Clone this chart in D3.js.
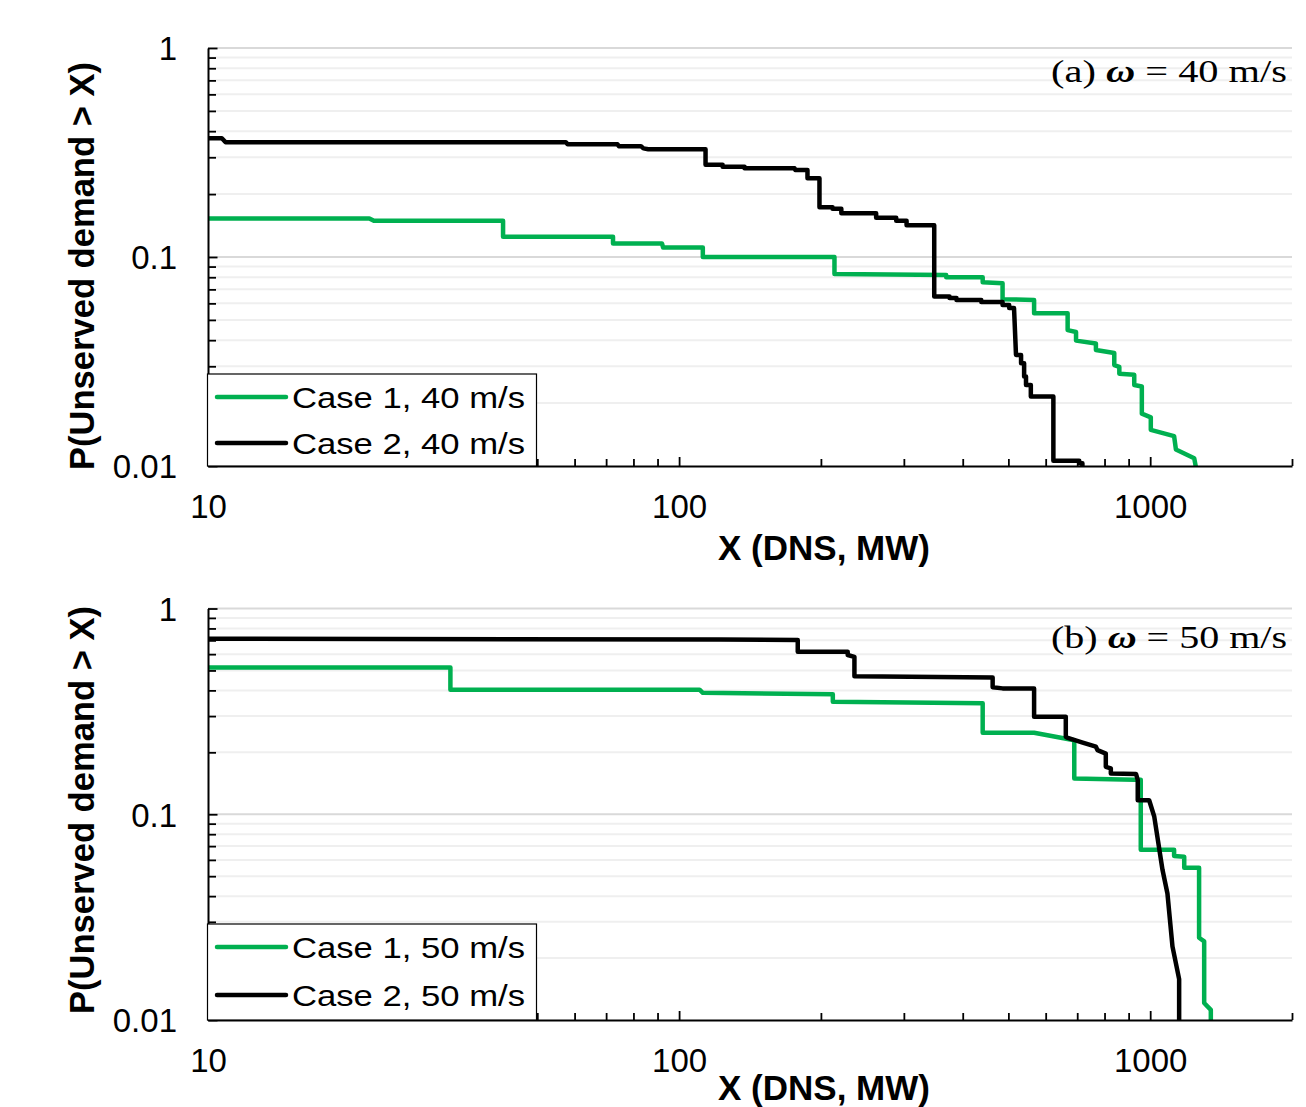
<!DOCTYPE html>
<html>
<head>
<meta charset="utf-8">
<script src="https://cdn.jsdelivr.net/npm/d3@7"></script>
<style>
  html, body { margin: 0; padding: 0; background: #fff; }
  svg { display: block; }
</style>
</head>
<body>
<div id="chart"></div>
<script>
// Log axis ticks
const xMajor = [10, 100, 1000];
const xMinor = [20, 30, 40, 50, 60, 70, 80, 90, 200, 300, 400, 500, 600, 700, 800, 900, 2000];
const yMajor = [0.01, 0.1, 1];
const yMinor = [0.02, 0.03, 0.04, 0.05, 0.06, 0.07, 0.08, 0.09, 0.2, 0.3, 0.4, 0.5, 0.6, 0.7, 0.8, 0.9];

// [DNS in MW, P(unserved demand > X)]
const case1_40 = [
  [10, 0.153], [22, 0.153], [22.5, 0.149], [42.3, 0.149], [42.3, 0.125], [72.4, 0.125], [72.4, 0.116],
  [92, 0.116], [92.5, 0.111], [112.3, 0.111], [112.3, 0.1], [213.7, 0.1], [213.7, 0.083], [369, 0.082],
  [369, 0.08], [441, 0.08], [441, 0.0757], [486, 0.0748], [486, 0.0628], [567, 0.0623], [567, 0.0538],
  [668, 0.0538], [668, 0.0447], [696, 0.0438], [696, 0.0398], [767, 0.0386], [767, 0.0359], [839, 0.0347],
  [839, 0.0304], [860, 0.0298], [860, 0.0276], [925, 0.0273], [925, 0.0244], [960, 0.024], [960, 0.0178],
  [1003, 0.0171], [1003, 0.0149], [1124, 0.0139], [1134, 0.012], [1240, 0.0109], [1250, 0.0099]
];
const case2_40 = [
  [10, 0.37], [10.7, 0.37], [10.9, 0.354], [57.5, 0.354], [58, 0.346], [74, 0.346], [74.5, 0.339],
  [83, 0.339], [84, 0.331], [86, 0.328], [113.8, 0.328], [113.8, 0.276], [123.7, 0.276], [123.7, 0.27],
  [137.7, 0.27], [137.7, 0.266], [175.8, 0.266], [176.5, 0.261], [187.3, 0.261], [187.3, 0.238],
  [198.6, 0.238], [198.6, 0.173], [211.7, 0.173], [211.7, 0.17], [221, 0.17], [221, 0.162], [262, 0.162],
  [262, 0.154], [289, 0.154], [289, 0.149], [304, 0.149], [304, 0.142], [348, 0.142], [348, 0.0647],
  [375, 0.0647], [375, 0.0637], [388, 0.0637], [388, 0.0623], [438, 0.0623], [438, 0.0609], [486, 0.0609],
  [486, 0.0589], [502, 0.0589], [502, 0.057], [514, 0.057], [519, 0.034], [532, 0.034], [532, 0.031],
  [540, 0.031], [540, 0.0268], [545, 0.0268], [545, 0.0244], [558, 0.0244], [558, 0.0215], [623, 0.0215],
  [623, 0.0106], [707, 0.0106], [707, 0.0103], [718, 0.0103], [718, 0.0099]
];
const case1_50 = [
  [10, 0.517], [32.7, 0.517], [32.7, 0.403], [110.5, 0.403], [112.3, 0.389], [212, 0.383], [212, 0.352],
  [441, 0.346], [441, 0.249], [567, 0.249], [690, 0.229], [690, 0.149], [925, 0.147], [955, 0.147],
  [955, 0.0672], [1124, 0.0672], [1124, 0.0627], [1181, 0.0622], [1181, 0.0549], [1270, 0.0549],
  [1270, 0.0251], [1302, 0.0241], [1302, 0.0121], [1345, 0.0112], [1345, 0.0099]
];
const case2_50 = [
  [10, 0.713], [122, 0.707], [178.6, 0.702], [178.6, 0.616], [228, 0.616], [228, 0.594], [235.6, 0.582],
  [235.6, 0.469], [463, 0.462], [463, 0.414], [486, 0.409], [567, 0.409], [567, 0.298], [662, 0.298],
  [662, 0.238], [666, 0.236], [719, 0.223], [767, 0.213], [773, 0.205], [805, 0.197], [805, 0.17],
  [825, 0.167], [825, 0.158], [933, 0.157], [941, 0.147], [941, 0.117], [995, 0.117], [1020, 0.0975],
  [1062, 0.0537], [1088, 0.0412], [1115, 0.0228], [1152, 0.0158], [1152, 0.0099]
];

const seriesNames40 = ["Case 1, 40 m/s", "Case 2, 40 m/s"];
const seriesNames50 = ["Case 1, 50 m/s", "Case 2, 50 m/s"];
const colors = ["#00b050", "#000000"];

const sans = "Arial, 'Liberation Sans', sans-serif";
const serif = "'Times New Roman', 'Liberation Serif', serif";

const W = 1306, H = 1107;
const svg = d3.select("#chart").append("svg").attr("width", W).attr("height", H);

const x = d3.scaleLog().domain([10, 2000]).range([208, 1292]);

function drawPanel(cfg) {
  const y = d3.scaleLog().domain([0.01, 1]).range([cfg.bottom, cfg.top]);
  const g = svg.append("g");

  // gridlines
  g.selectAll(".minor").data(yMinor).join("line")
    .attr("x1", x.range()[0]).attr("x2", x.range()[1])
    .attr("y1", d => y(d)).attr("y2", d => y(d))
    .attr("stroke", "#efefef").attr("stroke-width", 2);
  g.selectAll(".major").data(yMajor.filter(d => d > 0.01)).join("line")
    .attr("x1", x.range()[0]).attr("x2", x.range()[1])
    .attr("y1", d => y(d)).attr("y2", d => y(d))
    .attr("stroke", "#d9d9d9").attr("stroke-width", 2);

  // curves
  const clipId = "clip" + cfg.id;
  svg.append("clipPath").attr("id", clipId).append("rect")
    .attr("x", 208).attr("y", cfg.top - 5).attr("width", 1090).attr("height", cfg.bottom - cfg.top + 6);
  const line = d3.line().x(d => x(d[0])).y(d => y(d[1]));
  g.append("g").attr("clip-path", `url(#${clipId})`)
    .selectAll("path").data(cfg.series).join("path")
    .attr("d", line)
    .attr("fill", "none")
    .attr("stroke", (d, i) => colors[i])
    .attr("stroke-width", 4.5)
    .attr("stroke-linejoin", "round");

  // x axis
  const xAxis = d3.axisBottom(x)
    .tickValues([...xMajor, ...xMinor])
    .tickSize(-7).tickSizeOuter(0).tickPadding(29)
    .tickFormat(d => xMajor.includes(d) ? String(d) : "");
  const gx = g.append("g").attr("transform", `translate(0,${cfg.bottom})`).call(xAxis);
  gx.select(".domain").attr("stroke", "#000").attr("stroke-width", 2);
  gx.selectAll(".tick line").attr("stroke", "#000").attr("stroke-width", 1.8)
    .attr("y2", d => xMajor.includes(d) ? -9 : -7);
  gx.selectAll(".tick text").attr("font-family", sans).attr("font-size", 33).attr("fill", "#000");

  // y axis
  const yAxis = d3.axisLeft(y)
    .tickValues([...yMajor, ...yMinor])
    .tickSize(-8).tickSizeOuter(0).tickPadding(31)
    .tickFormat(d => yMajor.includes(d) ? String(d) : "");
  const gy = g.append("g").attr("transform", "translate(208,0)").call(yAxis);
  gy.select(".domain").attr("stroke", "#000").attr("stroke-width", 2);
  gy.selectAll(".tick line").attr("stroke", "#000").attr("stroke-width", 1.8)
    .attr("x2", d => yMajor.includes(d) ? 9.5 : 8);
  gy.selectAll(".tick text").attr("font-family", sans).attr("font-size", 33).attr("fill", "#000")
    .attr("dy", "0.36em");

  // axis titles
  g.append("text")
    .attr("transform", `translate(94,${cfg.titleY}) rotate(-90)`)
    .attr("text-anchor", "middle")
    .attr("font-family", sans).attr("font-weight", "bold").attr("font-size", 35)
    .attr("textLength", 408).attr("lengthAdjust", "spacingAndGlyphs")
    .text("P(Unserved demand > X)");
  g.append("text")
    .attr("x", 824).attr("y", cfg.xTitleY)
    .attr("text-anchor", "middle")
    .attr("font-family", sans).attr("font-weight", "bold").attr("font-size", 35)
    .text("X (DNS, MW)");

  // legend
  const lg = g.append("g");
  lg.append("rect")
    .attr("x", 207.5).attr("y", cfg.legendTop).attr("width", 329)
    .attr("height", cfg.bottom - cfg.legendTop)
    .attr("fill", "#fff").attr("stroke", "#000").attr("stroke-width", 1.2);
  cfg.names.forEach((name, i) => {
    const ly = cfg.legendTop + 23 + i * cfg.legendGap;
    lg.append("line").attr("x1", 217).attr("x2", 286).attr("y1", ly).attr("y2", ly)
      .attr("stroke", colors[i]).attr("stroke-width", 4.5).attr("stroke-linecap", "round");
    lg.append("text").attr("x", 292).attr("y", ly + 11)
      .attr("font-family", sans).attr("font-size", 29.5).attr("fill", "#000")
      .attr("textLength", 233).attr("lengthAdjust", "spacingAndGlyphs")
      .text(name);
  });

  // panel annotation
  const t = g.append("text")
    .attr("x", 1051).attr("y", cfg.noteY)
    .attr("font-family", serif).attr("font-size", 32.5).attr("fill", "#000")
    .attr("textLength", 236).attr("lengthAdjust", "spacingAndGlyphs");
  t.append("tspan").text(cfg.tag + " ");
  t.append("tspan").attr("font-weight", "bold").attr("font-style", "italic").text("ω");
  t.append("tspan").text(" = " + cfg.speed);
}

drawPanel({
  id: "a", top: 48, bottom: 466, titleY: 266, xTitleY: 560,
  legendTop: 374, legendGap: 46, noteY: 82, tag: "(a)", speed: "40 m/s",
  series: [case1_40, case2_40], names: seriesNames40
});
drawPanel({
  id: "b", top: 608.5, bottom: 1020, titleY: 810, xTitleY: 1100,
  legendTop: 924, legendGap: 48, noteY: 648, tag: "(b)", speed: "50 m/s",
  series: [case1_50, case2_50], names: seriesNames50
});
</script>
</body>
</html>
